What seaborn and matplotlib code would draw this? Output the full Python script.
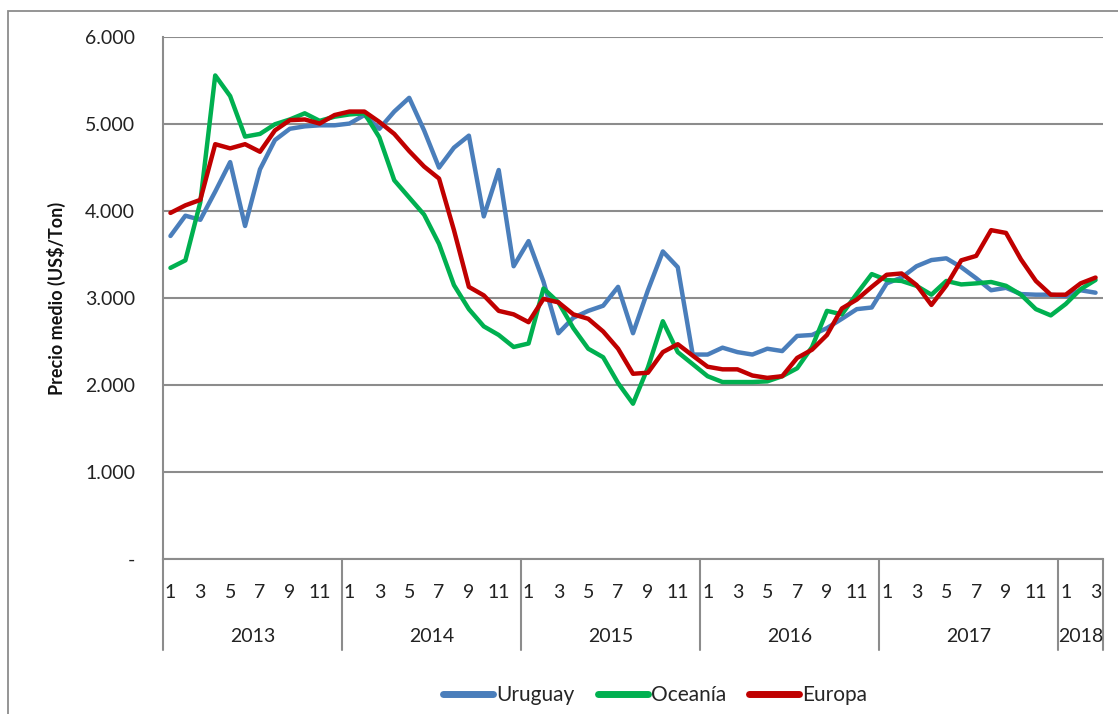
import numpy as np
import pandas as pd
import matplotlib
matplotlib.use("Agg")
import matplotlib.pyplot as plt
from matplotlib.ticker import FuncFormatter
from matplotlib.patches import Rectangle
import seaborn as sns

years = [2013, 2014, 2015, 2016, 2017, 2018]
months_per_year = [12, 12, 12, 12, 12, 3]

uruguay = [3713, 3946, 3899, 4223, 4562, 3828, 4479, 4815, 4945, 4973, 4985, 4985,
           5005, 5103, 4945, 5143, 5301, 4926, 4499, 4728, 4866, 3938, 4471, 3365,
           3654, 3188, 2595, 2773, 2852, 2911, 3128, 2595, 3089, 3535, 3354, 2350,
           2350, 2429, 2378, 2350, 2417, 2390, 2564, 2575, 2654, 2761, 2872, 2891,
           3168, 3235, 3365, 3436, 3456, 3354, 3227, 3089, 3117, 3045, 3038, 3038,
           3022, 3089, 3061]
oceania = [3346, 3433, 4100, 5558, 5321, 4855, 4886, 4997, 5052, 5123, 5036, 5084,
           5110, 5123, 4847, 4353, 4155, 3958, 3622, 3148, 2872, 2674, 2575, 2437,
           2477, 3109, 2950, 2654, 2417, 2319, 2022, 1785, 2200, 2733, 2378, 2240,
           2101, 2034, 2034, 2034, 2042, 2101, 2192, 2437, 2852, 2812, 3049, 3275,
           3207, 3196, 3140, 3038, 3196, 3156, 3168, 3184, 3140, 3038, 2872, 2800,
           2931, 3101, 3207]
europa = [3978, 4065, 4128, 4768, 4720, 4768, 4681, 4926, 5044, 5052, 5005, 5103,
          5143, 5143, 5024, 4886, 4689, 4511, 4373, 3780, 3128, 3030, 2852, 2812,
          2722, 2990, 2950, 2812, 2761, 2615, 2417, 2129, 2141, 2378, 2469, 2338,
          2210, 2180, 2180, 2109, 2082, 2101, 2311, 2406, 2575, 2880, 2982, 3128,
          3267, 3282, 3150, 2920, 3144, 3433, 3484, 3780, 3748, 3444, 3196, 3038,
          3038, 3168, 3235]

series_names = ["Uruguay", "Oceanía", "Europa"]
colors = {"Uruguay": "#4A7EBB", "Oceanía": "#00B050", "Europa": "#C00000"}

months = [m for n in months_per_year for m in range(1, n + 1)]
idx = np.arange(len(months))

df = pd.DataFrame({
    "idx": np.tile(idx, 3),
    "valor": uruguay + oceania + europa,
    "serie": np.repeat(series_names, len(months)),
})

sns.set_style("white")
plt.rcParams["font.family"] = ["Lato", "DejaVu Sans"]

fig = plt.figure(figsize=(11.18, 7.14), dpi=100)
ax = fig.add_axes([163 / 1118, 1 - 559 / 714, 940 / 1118, 522 / 714])

sns.lineplot(data=df, x="idx", y="valor", hue="serie", palette=colors,
             hue_order=series_names, linewidth=3.2, ax=ax, legend=False)

grid_c = "#8C8C8C"
ax.set_xlim(-0.5, len(months) - 0.5)
ax.set_ylim(0, 6000)
ax.set_yticks(np.arange(0, 6001, 1000))
ax.yaxis.set_major_formatter(FuncFormatter(
    lambda v, p: "-" if v == 0 else f"{int(v):,}".replace(",", ".")))
ax.grid(axis="y", color=grid_c, linewidth=1.5)
ax.set_axisbelow(True)
for s in ["top", "right"]:
    ax.spines[s].set_visible(False)
for s in ["left", "bottom"]:
    ax.spines[s].set_color(grid_c)
    ax.spines[s].set_linewidth(1.5)

odd = [i for i, m in enumerate(months) if m % 2 == 1]
ax.set_xticks(odd)
ax.set_xticklabels([str(months[i]) for i in odd])
ax.tick_params(axis="x", length=0, pad=18, labelsize=14, labelcolor="#222222")
ax.tick_params(axis="y", length=0, pad=20, labelsize=14, labelcolor="#222222")
ax.set_xlabel("")
ax.set_ylabel("Precio medio (US$/Ton)", fontsize=13, fontweight="bold",
              labelpad=14, color="#111111")

# multi-level category axis: year separators and labels
trans = ax.get_xaxis_transform()
drop = -91 / 522
bounds = np.concatenate([[0], np.cumsum(months_per_year)]) - 0.5
for b in bounds:
    ax.plot([b, b], [0, drop], color=grid_c, linewidth=1.5,
            transform=trans, clip_on=False)
for y, a, b in zip(years, bounds[:-1], bounds[1:]):
    ax.text((a + b) / 2, -78 / 522, str(y), transform=trans, ha="center",
            va="center", fontsize=14, color="#222222")

handles = [plt.Line2D([], [], color=colors[n], linewidth=5) for n in series_names]
fig.legend(handles, series_names, loc="center", bbox_to_anchor=(0.586, 1 - 695 / 714),
           ncol=3, frameon=False, fontsize=15, handlelength=2.4,
           handletextpad=0.15, columnspacing=1.1)

fig.patches.append(Rectangle((8 / 1118, -0.1), 1.2, 1 - 11 / 714 + 0.1,
                             transform=fig.transFigure, fill=False,
                             edgecolor="#8C8C8C", linewidth=1.3))

fig.savefig("out.png", dpi=100, facecolor="white")
